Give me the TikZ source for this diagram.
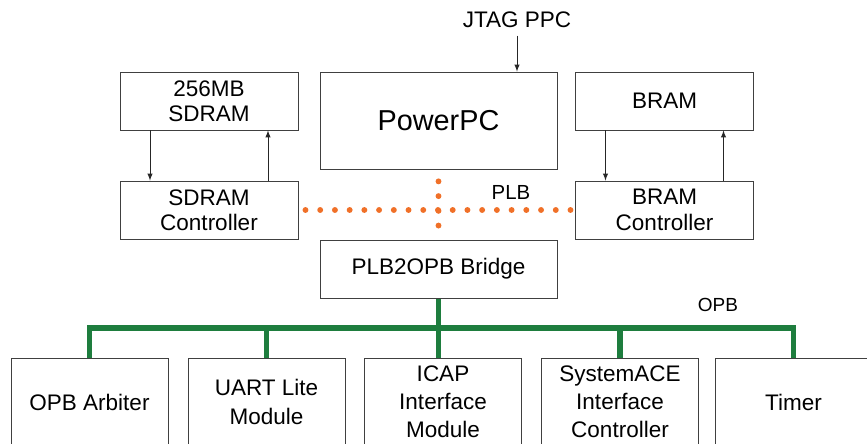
\documentclass[tikz,border=0pt]{standalone}
\usepackage{fontspec}
\setmainfont{Liberation Sans}
\usepackage{tikz}
\usetikzlibrary{arrows}
\usetikzlibrary{calc}
\usetikzlibrary{backgrounds}
\colorlet{colorBox}{black!75}
\colorlet{colorSig}{black!85}
\definecolor{colorPLB}{RGB}{240,112,40}
\definecolor{colorOPB}{RGB}{30,125,62}
\tikzset{
   every path/.style={>=latex},
   blk/.style={rectangle,draw=colorBox,fill=white,line width=0.6pt,align=center,inner sep=2pt},
   mem/.style={blk,minimum width=4.45cm,minimum height=1.45cm,font=\fontsize{16}{18}\selectfont},
   core/.style={blk,minimum width=5.925cm,minimum height=1.45cm,font=\fontsize{16}{18}\selectfont},
   periph/.style={blk,minimum width=3.925cm,minimum height=2.2cm,font=\fontsize{16}{20}\selectfont},
   lab/.style={font=\fontsize{16}{18}\selectfont},
   sig/.style={->,color=colorSig,line width=0.7pt},
   plb/.style={color=colorPLB,line width=4.2pt,line cap=round,dash pattern=on 0pt off 10.47pt},
   opb/.style={color=colorOPB,line width=4.2pt},
}

\begin{document}
\begin{tikzpicture}[x=0.025cm,y=-0.025cm]

  \useasboundingbox (0,0) rectangle (867,444);
  \clip (0,0) rectangle (867,444);

  \node[mem] (sdram)  at (209,101)   {256MB\\SDRAM};
  \node[mem] (sdramc) at (209,210)   {SDRAM\\Controller};

  \node[core,minimum height=2.425cm,font=\fontsize{20.5}{24}\selectfont]
             (ppc)    at (438.5,120.5) {PowerPC};
  \node[core] (bridge) at (438.5,269) {PLB2OPB Bridge};

  \node[mem] (bram)   at (664.5,101) {BRAM};
  \node[mem] (bramc)  at (664.5,210) {BRAM\\Controller};

  \node[periph] (arb)   at (89.5,402)  {OPB Arbiter};
  \node[periph] (uart)  at (266.5,402) {UART Lite\\Module};
  \node[periph] (icap)  at (443,402)   {ICAP\\Interface\\Module};
  \node[periph] (sace)  at (620,402)   {SystemACE\\Interface\\Controller};
  \node[periph] (timer) at (793.5,402) {Timer};

  \node[lab] (jtag) at (517,20)  {JTAG PPC};
  \node[lab,font=\fontsize{14.5}{17}\selectfont] (plbl) at (511,192) {PLB};
  \node[lab,font=\fontsize{13.5}{15}\selectfont] (opbl) at (718,305) {OPB};

  \coordinate (bus) at (438.5,328);

  \draw[sig,shorten <=2pt] (jtag.south) -- (jtag.south |- ppc.north);

  \draw[sig] ($(sdram.south)+(-59,0)$)  -- ($(sdramc.north)+(-59,0)$);
  \draw[sig] ($(sdramc.north)+(59,0)$)  -- ($(sdram.south)+(59,0)$);
  \draw[sig] ($(bram.south)+(-59,0)$)   -- ($(bramc.north)+(-59,0)$);
  \draw[sig] ($(bramc.north)+(59,0)$)   -- ($(bram.south)+(59,0)$);

  \begin{scope}[on background layer]
    %% PLB
    \draw[plb,shorten <=5pt] (sdramc.east) -- (bramc.west);
    \draw[plb,shorten <=8.5pt] (ppc.south) -- (bridge.north);
    %% OPB
    \draw[opb] (arb.north) -- (arb.north |- bus) -- (timer.north |- bus) -- (timer.north);
    \draw[opb] (bridge.south) -- (bridge.south |- icap.north);
    \draw[opb] (uart.north) -- (uart.north |- bus);
    \draw[opb] (sace.north) -- (sace.north |- bus);
  \end{scope}

\end{tikzpicture}
\end{document}
